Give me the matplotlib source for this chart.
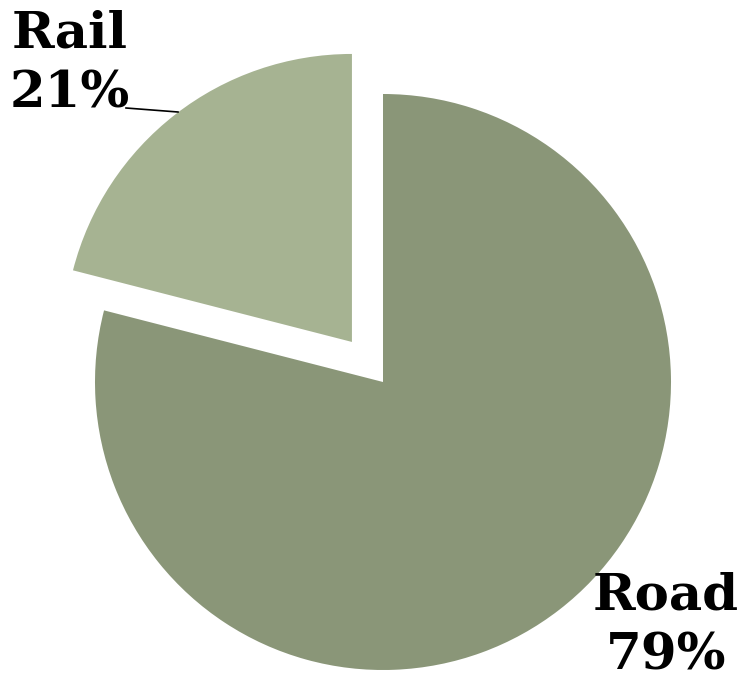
import matplotlib
matplotlib.use("Agg")
import matplotlib.pyplot as plt

categories = ["Rail", "Road"]
shares = [21, 79]
colors = ["#A6B392", "#8A9678"]
explode = [0.176, 0.0]

W, H = 756, 681
fig = plt.figure(figsize=(W / 100, H / 100), dpi=100)
ax = fig.add_axes([0, 0, 1, 1])

cx, cy, R = 383.0, 382.0, 288.0

ax.pie(shares, colors=colors, explode=explode, startangle=90, counterclock=True,
       radius=1.0, center=(0, 0), wedgeprops=dict(linewidth=0))

ax.set_xlim(-cx / R, (W - cx) / R)
ax.set_ylim(-(H - cy) / R, cy / R)
ax.set_aspect("auto")
ax.axis("off")

def px(x, y):
    return ((x - cx) / R, (cy - y) / R)

font = dict(family="DejaVu Serif", fontweight="bold", fontsize=37, color="black",
            ha="center", va="center", linespacing=1.3)
labels = [f"{c}\n{s}%" for c, s in zip(categories, shares)]
ax.text(*px(70, 64), labels[0], **font)
ax.text(*px(666, 626), labels[1], **font)

(x0, y0), (x1, y1) = px(126, 108), px(178, 112)
ax.plot([x0, x1], [y0, y1], color="black", linewidth=1.2)

fig.savefig("out.png", dpi=100)
